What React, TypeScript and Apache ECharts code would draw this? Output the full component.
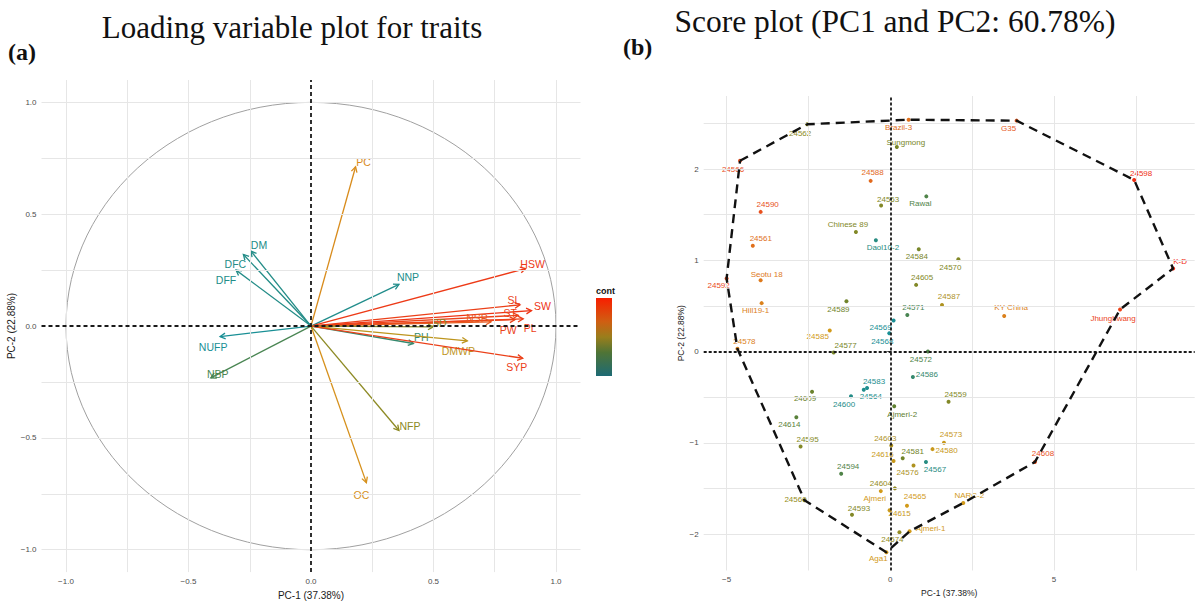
import React, { useEffect, useRef } from "react";
import * as echarts from "echarts";

// ---------- Panel (a): variable loadings ----------
const loadingVars = ["PC", "OC", "DM", "DFC", "DFF", "NNP", "HSW", "SL", "SW", "ST", "PL", "PW", "NSP", "SD", "PH", "DMWP", "SYP", "NUFP", "NBP", "NFP"];
const loadingPC1 = [0.182, 0.226, -0.245, -0.276, -0.306, 0.359, 0.876, 0.853, 0.9, 0.846, 0.866, 0.833, 0.735, 0.499, 0.418, 0.638, 0.864, -0.371, -0.409, 0.359];
const loadingPC2 = [0.712, -0.7, 0.335, 0.32, 0.25, 0.186, 0.257, 0.095, 0.069, 0.048, 0.032, 0.029, 0.019, -0.004, -0.078, -0.066, -0.144, -0.047, -0.232, -0.467];
const loadingContrib = [0.68, 0.66, 0.12, 0.12, 0.12, 0.1, 0.95, 0.93, 0.97, 0.92, 0.94, 0.92, 0.85, 0.45, 0.22, 0.58, 0.93, 0.05, 0.28, 0.48];
// label placement (px offset from arrow tip)
const loadingLabelOffsets = [[8, -5], [-5, 12], [8, -6], [-8, 10], [-10, 10], [9, -7], [7, -5], [-6, -5], [11, -5], [-8, -2], [7, 9], [-7, 10], [-14, -4], [6, -4], [8, -6], [-9, 10], [-6, 9], [-7, 10], [7, -4], [11, -5]];

// ---------- Panel (b): individual scores ----------
const scoreNames = ["24566", "24562", "Brazil-3", "Sungmong", "24588", "24563", "Rawal", "24590", "Chinese 89", "Daol10-2", "24561", "24584", "24605", "Seotu 18", "24592", "24570", "24587", "KY China", "Jhunghwang", "K-D", "24598", "G35", "Hill19-1", "24589", "24571", "24569", "24568", "24585", "24578", "24577", "24572", "24586", "24583", "24564", "24600", "24609", "Ajmeri-2", "24614", "24559", "24573", "24580", "24595", "24603", "24616", "24581", "24576", "24567", "24594", "24604", "Ajmeri", "24565", "24560", "24593", "24615", "NARC-2", "24608", "Ajmeri-1", "24574", "Aga1"];
const scorePC1 = [-4.59, -2.54, 0.56, 0.2, -0.6, -0.28, 1.1, -3.96, -1.05, -0.44, -4.2, 0.87, 0.79, -3.96, -5.0, 2.08, 1.58, 3.48, 7.02, 8.64, 7.45, 3.86, -3.93, -1.34, 0.52, 0.1, -0.03, -1.85, -4.67, -1.73, 1.15, 0.69, -0.71, -0.81, -1.2, -2.39, 0.12, -2.87, 1.78, 1.64, 1.29, -2.74, 0.03, 0.1, 0.38, 0.71, 1.09, -1.5, 0.14, -0.29, 0.51, -2.62, -1.17, -0.02, 2.23, 4.42, 0.59, 0.28, -0.12];
const scorePC2 = [2.09, 2.49, 2.54, 2.24, 1.87, 1.6, 1.7, 1.53, 1.31, 1.22, 1.16, 1.12, 0.73, 0.78, 0.8, 1.01, 0.51, 0.39, 0.46, 0.91, 1.88, 2.53, 0.53, 0.55, 0.4, 0.34, 0.2, 0.23, 0.03, -0.01, 0.0, -0.28, -0.4, -0.42, -0.49, -0.44, -0.6, -0.72, -0.55, -1.0, -1.07, -1.04, -1.03, -1.2, -1.17, -1.25, -1.21, -1.34, -1.5, -1.53, -1.69, -1.63, -1.79, -1.74, -1.66, -1.21, -1.97, -1.98, -2.2];
const scoreContrib = [0.88, 0.48, 0.78, 0.42, 0.8, 0.45, 0.3, 0.88, 0.45, 0.15, 0.78, 0.42, 0.45, 0.75, 0.9, 0.45, 0.55, 0.72, 0.92, 1.0, 0.98, 0.85, 0.72, 0.4, 0.28, 0.05, 0.05, 0.62, 0.72, 0.42, 0.3, 0.22, 0.08, 0.1, 0.12, 0.38, 0.35, 0.33, 0.45, 0.6, 0.6, 0.45, 0.55, 0.6, 0.4, 0.55, 0.15, 0.3, 0.5, 0.62, 0.62, 0.5, 0.45, 0.6, 0.62, 0.88, 0.62, 0.5, 0.62];
// label placement (px offset from point)
const scoreLabelOffsets = [[-7, 9], [-7, 9], [-10, 8], [9, -5], [2, -8], [7, -6], [-6, 7], [7, -7], [-8, -7], [7, 7], [8, -7], [-2, 7], [6, -7], [6, -6], [-8, 7], [-8, 8], [7, -8], [7, -8], [-7, 9], [7, -7], [7, -6], [-8, 8], [-6, 7], [-8, 8], [6, -8], [-13, 7], [-7, 8], [-12, 6], [7, -7], [12, -7], [-7, 8], [14, -3], [7, -7], [7, 7], [-7, 8], [-7, 7], [8, 8], [-7, 7], [7, -7], [7, -8], [14, 1], [7, -7], [-6, -7], [-11, -7], [10, -7], [-6, 7], [9, 8], [7, -7], [-14, -5], [-6, 7], [8, -9], [-9, -1], [7, -6], [10, 3], [6, -7], [8, -8], [21, -3], [-7, 7], [-8, 6]];
// convex hull vertices (in order)
const hullNames = ["24566", "24562", "Brazil-3", "G35", "24598", "K-D", "Jhunghwang", "24608", "NARC-2", "Ajmeri-1", "Aga1", "24560", "24578", "24592", "24566"];

// ---------- ticks ----------
const loadTicks = [-1, -0.5, 0, 0.5, 1];
const loadGrid = [-1, -0.75, -0.5, -0.25, 0, 0.25, 0.5, 0.75, 1];
const scoreXTicks = [-5, 0, 5];
const scoreXGrid = [-5, -2.5, 0, 2.5, 5, 7.5];
const scoreYTicks = [-2, -1, 0, 1, 2];
const scoreYGrid = [-2, -1.5, -1, -0.5, 0, 0.5, 1, 1.5, 2, 2.5];

// ---------- colour scale for "contrib" ----------
const colorStops: [number, string][] = [
  [0, "#12909E"], [0.2, "#2F8A78"], [0.35, "#5F8030"], [0.5, "#948C22"],
  [0.62, "#D29A1A"], [0.75, "#DE7A1C"], [0.88, "#E8501E"], [1, "#F02A12"],
];
const legendStops: [number, string][] = [
  [0, "#1D6A74"], [0.3, "#4F7436"], [0.5, "#9A7E1C"], [0.7, "#D05E12"], [1, "#F81E00"],
];
function hex(h: string) {
  return [parseInt(h.slice(1, 3), 16), parseInt(h.slice(3, 5), 16), parseInt(h.slice(5, 7), 16)];
}
function colorAt(t: number) {
  for (let i = 0; i < colorStops.length - 1; i++) {
    const [a, ca] = colorStops[i];
    const [b, cb] = colorStops[i + 1];
    if (t <= b || i === colorStops.length - 2) {
      const f = Math.max(0, Math.min(1, (t - a) / (b - a)));
      const A = hex(ca), B = hex(cb);
      const c = A.map((v, k) => Math.round(v + (B[k] - v) * f));
      return `rgb(${c[0]},${c[1]},${c[2]})`;
    }
  }
  return colorStops[colorStops.length - 1][1];
}

const SANS = "Liberation Sans, Arial, sans-serif";
const SERIF = "Liberation Serif, Times New Roman, serif";
const fmtMinus = (v: number, d: number) => (v < 0 ? "\u2212" : "") + Math.abs(v).toFixed(d);

function axis(grid: number, min: number, max: number, ticks: number[], digits: number, name: string, isY: boolean, nameGap: number, nameSize: number) {
  return {
    type: "value",
    gridIndex: grid,
    min,
    max,
    name,
    nameLocation: "middle",
    nameGap,
    nameRotate: isY ? 90 : 0,
    nameTextStyle: { fontSize: nameSize, color: "#1a1a1a", fontFamily: SANS },
    axisLine: { show: false },
    splitLine: { show: false },
    axisTick: { show: true, length: 3, customValues: ticks, lineStyle: { color: "#444", width: 1 } },
    axisLabel: {
      show: true,
      customValues: ticks,
      margin: 5,
      fontSize: 8,
      color: "#4D4D4D",
      fontFamily: SANS,
      formatter: (v: number) => fmtMinus(v, digits),
    },
  };
}

function gridLines(xs: number[], ys: number[], zeroDash: number[], zeroWidth: number) {
  const light = { color: "#E6E6E6", width: 1, type: "solid" };
  const zero = { color: "#1a1a1a", width: zeroWidth, type: zeroDash };
  return [
    ...xs.filter((v) => v !== 0).map((v) => ({ xAxis: v, lineStyle: light })),
    ...ys.filter((v) => v !== 0).map((v) => ({ yAxis: v, lineStyle: light })),
    { xAxis: 0, lineStyle: zero },
    { yAxis: 0, lineStyle: zero },
  ];
}

const circleData: number[][] = [];
for (let a = 0; a <= 360; a += 3) {
  const r = (a * Math.PI) / 180;
  circleData.push([Math.cos(r), Math.sin(r)]);
}

const hullData = hullNames.map((n) => {
  const i = scoreNames.indexOf(n);
  return [scorePC1[i], scorePC2[i]];
});

const option: any = {
  animation: false,
  backgroundColor: "#ffffff",
  grid: [
    { left: 41.5, top: 80, width: 539, height: 500 },
    { left: 703.7, top: 96, width: 491, height: 474.5 },
  ],
  xAxis: [
    axis(0, -1.1, 1.1, loadTicks, 1, "PC-1 (37.38%)", false, 13, 10),
    axis(1, -5.7, 9.3, scoreXTicks, 0, "PC-1 (37.38%)", false, 17, 8.5),
  ],
  yAxis: [
    axis(0, -1.1, 1.1, loadTicks, 1, "PC-2 (22.88%)", true, 15, 10),
    axis(1, -2.4, 2.8, scoreYTicks, 0, "PC-2 (22.88%)", true, 13, 8.5),
  ],
  series: [
    {
      type: "line",
      xAxisIndex: 0,
      yAxisIndex: 0,
      data: [[0, 0]],
      showSymbol: false,
      symbol: "none",
      lineStyle: { width: 0 },
      silent: true,
      z: 1,
      markLine: {
        silent: true,
        symbol: ["none", "none"],
        label: { show: false },
        emphasis: { disabled: true },
        data: gridLines(loadGrid, loadGrid, [4, 3], 1.8),
      },
    },
    {
      type: "line",
      xAxisIndex: 0,
      yAxisIndex: 0,
      data: circleData,
      showSymbol: false,
      symbol: "none",
      silent: true,
      lineStyle: { color: "#A0A0A0", width: 1 },
      z: 2,
    },
    {
      type: "custom",
      xAxisIndex: 0,
      yAxisIndex: 0,
      silent: true,
      z: 3,
      data: loadingVars.map((_, i) => [loadingPC1[i], loadingPC2[i]]),
      renderItem: (params: any, api: any) => {
        const i = params.dataIndex;
        const o = api.coord([0, 0]);
        const p = api.coord([api.value(0), api.value(1)]);
        const col = colorAt(loadingContrib[i]);
        const dx = p[0] - o[0], dy = p[1] - o[1];
        const len = Math.hypot(dx, dy) || 1;
        const ux = dx / len, uy = dy / len;
        const L = 6, c = Math.cos(0.5), s = Math.sin(0.5);
        const b1 = [p[0] - L * (ux * c - uy * s), p[1] - L * (uy * c + ux * s)];
        const b2 = [p[0] - L * (ux * c + uy * s), p[1] - L * (uy * c - ux * s)];
        const off = loadingLabelOffsets[i];
        return {
          type: "group",
          children: [
            { type: "line", shape: { x1: o[0], y1: o[1], x2: p[0], y2: p[1] }, style: { stroke: col, lineWidth: 1.3 } },
            { type: "polyline", shape: { points: [b1, p, b2] }, style: { stroke: col, lineWidth: 1.3, fill: "none" } },
            {
              type: "text",
              x: p[0] + off[0],
              y: p[1] + off[1],
              style: { text: loadingVars[i], fill: col, fontSize: 10.5, fontFamily: SANS, align: "center", verticalAlign: "middle" },
            },
          ],
        };
      },
    },
    {
      type: "line",
      xAxisIndex: 1,
      yAxisIndex: 1,
      data: [[0, 0]],
      showSymbol: false,
      symbol: "none",
      lineStyle: { width: 0 },
      silent: true,
      z: 1,
      markLine: {
        silent: true,
        symbol: ["none", "none"],
        label: { show: false },
        emphasis: { disabled: true },
        data: gridLines(scoreXGrid, scoreYGrid, [3, 2], 1.8),
      },
    },
    {
      type: "scatter",
      xAxisIndex: 1,
      yAxisIndex: 1,
      symbolSize: 4,
      silent: true,
      z: 3,
      itemStyle: { opacity: 1 },
      label: { show: true, position: "inside", formatter: "{b}", fontSize: 8, fontFamily: SANS, textBorderWidth: 0, textBorderColor: "transparent", opacity: 1 },
      data: scoreNames.map((n, i) => {
        const col = colorAt(scoreContrib[i]);
        return {
          name: n,
          value: [scorePC1[i], scorePC2[i]],
          itemStyle: { color: col, opacity: 1 },
          label: { offset: scoreLabelOffsets[i], color: col, textBorderWidth: 0 },
        };
      }),
    },
    {
      type: "line",
      xAxisIndex: 1,
      yAxisIndex: 1,
      data: hullData,
      showSymbol: false,
      symbol: "none",
      silent: true,
      z: 5,
      lineStyle: { color: "#111111", width: 2.4, type: [9, 6] },
    },
  ],
  graphic: [
    {
      type: "text",
      x: 292,
      y: 27,
      style: { text: "Loading variable plot for traits", fill: "#111", fontSize: 31, fontFamily: SERIF, align: "center", verticalAlign: "middle" },
    },
    {
      type: "text",
      x: 8,
      y: 52,
      style: { text: "(a)", fill: "#111", fontSize: 24, fontWeight: "bold", fontFamily: SERIF, align: "left", verticalAlign: "middle" },
    },
    {
      type: "text",
      x: 895,
      y: 21,
      style: { text: "Score plot (PC1 and PC2: 60.78%)", fill: "#111", fontSize: 31.5, fontFamily: SERIF, align: "center", verticalAlign: "middle" },
    },
    {
      type: "text",
      x: 623,
      y: 47,
      style: { text: "(b)", fill: "#111", fontSize: 24, fontWeight: "bold", fontFamily: SERIF, align: "left", verticalAlign: "middle" },
    },
    {
      type: "rect",
      shape: { x: 596, y: 298, width: 16, height: 78 },
      style: {
        fill: {
          type: "linear",
          x: 0, y: 1, x2: 0, y2: 0,
          colorStops: legendStops.map(([o, c]) => ({ offset: o, color: c })),
        },
      },
    },
    {
      type: "text",
      x: 596,
      y: 291,
      style: { text: "cont", fill: "#111", fontSize: 9, fontWeight: "bold", fontFamily: SANS, align: "left", verticalAlign: "middle" },
    },
  ],
};

export default function App() {
  const ref = useRef<HTMLDivElement>(null);
  useEffect(() => {
    const chart = echarts.init(ref.current!, null, { renderer: "svg" });
    chart.setOption(option);
    return () => chart.dispose();
  }, []);
  return <div ref={ref} style={{ position: "fixed", left: 0, top: 0, width: 1198, height: 605, background: "#fff" }} />;
}
